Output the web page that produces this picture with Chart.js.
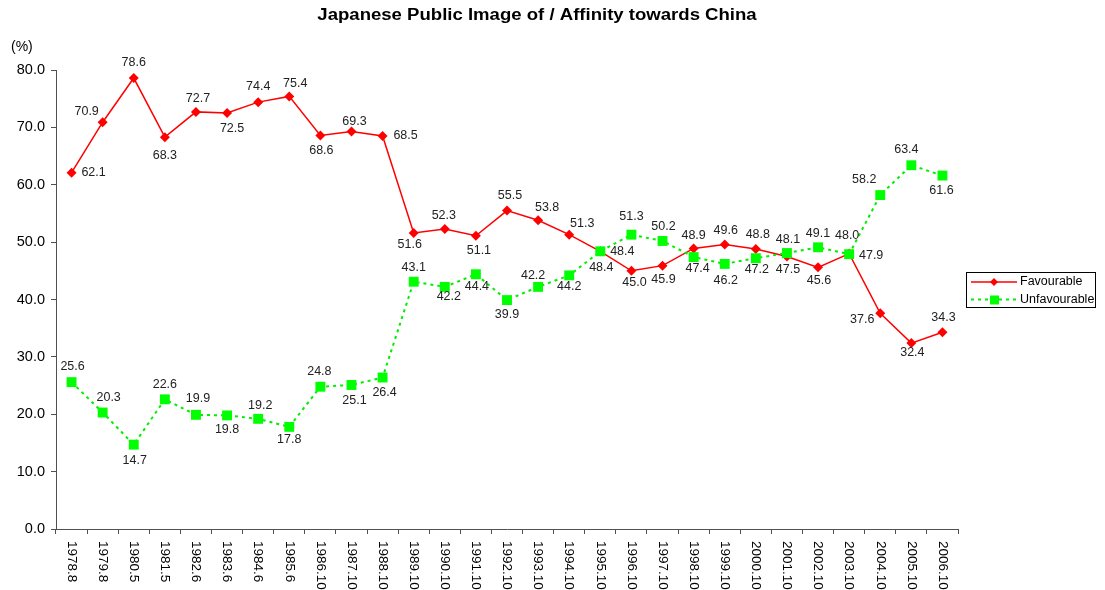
<!DOCTYPE html>
<html>
<head>
<meta charset="utf-8">
<script src="https://cdn.jsdelivr.net/npm/chart.js@4.4.1/dist/chart.umd.min.js"></script>
<style>
html,body{margin:0;padding:0;background:#fff;}
#wrap{width:1105px;height:590px;position:relative;}
</style>
</head>
<body>
<div id="wrap"><canvas id="c" width="1105" height="590"></canvas></div>
<script>
const categories = ['1978.8','1979.8','1980.5','1981.5','1982.6','1983.6','1984.6','1985.6','1986.10','1987.10','1988.10','1989.10','1990.10','1991.10','1992.10','1993.10','1994.10','1995.10','1996.10','1997.10','1998.10','1999.10','2000.10','2001.10','2002.10','2003.10','2004.10','2005.10','2006.10'];
const favourable = [62.1,70.9,78.6,68.3,72.7,72.5,74.4,75.4,68.6,69.3,68.5,51.6,52.3,51.1,55.5,53.8,51.3,48.4,45.0,45.9,48.9,49.6,48.8,47.5,45.6,48.0,37.6,32.4,34.3];
const unfavourable = [25.6,20.3,14.7,22.6,19.9,19.8,19.2,17.8,24.8,25.1,26.4,43.1,42.2,44.4,39.9,42.2,44.2,48.4,51.3,50.2,47.4,46.2,47.2,48.1,49.1,47.9,58.2,63.4,61.6];
const yTicks = [0,10,20,30,40,50,60,70,80];
const seriesNames = ['Favourable','Unfavourable'];
const titleText = 'Japanese Public Image of / Affinity towards China';
const unitText = '(%)';

// label placement offsets (style only): [dx, dy] from point centre
const favLabelOffsets = [[22,0],[-16,-11],[0,-15],[0,18],[2,-13],[5,16],[0,-16],[6,-13],[1,15],[3,-10],[23,0],[-4,12],[-1,-13],[3,15],[3,-15],[9,-13],[13,-11],[22,0],[3,12],[1,14],[0,-13],[1,-14],[2,-14],[1,13],[1,13],[-2,-18],[-18,6],[1,9],[1,-15]];
const unfLabelOffsets = [[1,-16],[6,-15],[1,16],[0,-15],[2,-16],[0,14],[2,-13],[0,13],[-1,-15],[3,16],[2,15],[0,-14],[4,10],[1,12],[0,14],[-5,-11],[0,11],[1,16],[0,-18],[1,-14],[4,12],[1,17],[1,11],[1,-13],[0,-14],[22,1],[-16,-16],[-5,-16],[-1,15]];

const FONT = '"Liberation Sans", Arial, sans-serif';
const AXIS = '#505050';

const overlay = {
  id: 'overlay',
  afterDatasetsDraw(chart) {
    const ctx = chart.ctx;
    ctx.save();
    ctx.font = '12.5px ' + FONT;
    ctx.fillStyle = '#222';
    ctx.textAlign = 'center';
    ctx.textBaseline = 'middle';
    const offs = [favLabelOffsets, unfLabelOffsets];
    chart.data.datasets.forEach((ds, di) => {
      const meta = chart.getDatasetMeta(di);
      meta.data.forEach((pt, i) => {
        const o = offs[di][i];
        ctx.fillText(ds.data[i].toFixed(1), pt.x + o[0], pt.y + o[1]);
      });
    });
    ctx.restore();
  },
  afterDraw(chart) {
    const ctx = chart.ctx;
    const xs = chart.scales.x;
    ctx.save();
    // x labels rotated clockwise
    ctx.font = '13.5px ' + FONT;
    ctx.fillStyle = '#000';
    ctx.textAlign = 'left';
    ctx.textBaseline = 'middle';
    categories.forEach((c, i) => {
      const x = xs.getPixelForValue(i);
      ctx.save();
      ctx.translate(x, 541);
      ctx.rotate(Math.PI / 2);
      ctx.fillText(c, 0, 0);
      ctx.restore();
    });
    // title (slightly widened like the reference)
    ctx.save();
    ctx.font = 'bold 16px ' + FONT;
    ctx.textAlign = 'center';
    ctx.translate(537, 16);
    ctx.scale(1.16, 1);
    ctx.fillText(titleText, 0, 0);
    ctx.restore();
    // unit
    ctx.font = '14px ' + FONT;
    ctx.textAlign = 'left';
    ctx.fillText(unitText, 11, 47);
    // legend
    ctx.strokeStyle = '#000';
    ctx.lineWidth = 1;
    ctx.strokeRect(966.5, 272.5, 129, 35);
    ctx.font = '12.5px ' + FONT;
    // row 1
    ctx.strokeStyle = '#ff0000';
    ctx.lineWidth = 1.5;
    ctx.beginPath(); ctx.moveTo(971, 282); ctx.lineTo(1017, 282); ctx.stroke();
    ctx.fillStyle = '#ff0000';
    ctx.beginPath(); ctx.moveTo(994, 278); ctx.lineTo(998, 282); ctx.lineTo(994, 286); ctx.lineTo(990, 282); ctx.closePath(); ctx.fill();
    ctx.fillStyle = '#000';
    ctx.fillText(seriesNames[0], 1020, 282);
    // row 2
    ctx.strokeStyle = '#00ee00';
    ctx.lineWidth = 2;
    ctx.setLineDash([3, 4]);
    ctx.beginPath(); ctx.moveTo(971, 299.5); ctx.lineTo(1017, 299.5); ctx.stroke();
    ctx.setLineDash([]);
    ctx.fillStyle = '#00ff00';
    ctx.fillRect(990, 295.5, 9, 9);
    ctx.fillStyle = '#000';
    ctx.fillText(seriesNames[1], 1020, 299.5);
    ctx.restore();
  }
};

new Chart(document.getElementById('c'), {
  type: 'line',
  data: {
    labels: categories,
    datasets: [
      {
        label: seriesNames[0],
        data: favourable,
        borderColor: '#ff0000',
        backgroundColor: '#ff0000',
        borderWidth: 1.5,
        pointStyle: 'rectRot',
        pointRadius: 5,
        pointBorderWidth: 0,
        pointBackgroundColor: '#ff0000',
        tension: 0,
        order: 1
      },
      {
        label: seriesNames[1],
        data: unfavourable,
        borderColor: '#00ee00',
        backgroundColor: '#00ff00',
        borderWidth: 2,
        borderDash: [3, 4],
        pointStyle: 'rect',
        pointRadius: 7,
        pointBorderWidth: 0,
        pointBackgroundColor: '#00ff00',
        tension: 0,
        order: 0
      }
    ]
  },
  options: {
    responsive: false,
    animation: false,
    devicePixelRatio: 1,
    layout: { padding: { left: 0, right: 147, top: 70, bottom: 56 } },
    plugins: { legend: { display: false }, title: { display: false }, tooltip: { enabled: false } },
    scales: {
      x: {
        type: 'category',
        offset: true,
        grid: { offset: true, drawOnChartArea: false, drawTicks: true, tickLength: 5, color: AXIS },
        border: { display: true, color: AXIS, width: 1 },
        ticks: { display: false },
        afterFit(s) { s.height = 5; }
      },
      y: {
        min: 0,
        max: 80,
        afterBuildTicks(s) { s.ticks = yTicks.map(v => ({ value: v })); },
        grid: { drawOnChartArea: false, drawTicks: true, tickLength: 5, color: AXIS },
        border: { display: true, color: AXIS, width: 1 },
        ticks: {
          font: { family: FONT, size: 14.5 },
          color: '#000',
          padding: 6,
          callback: v => Number(v).toFixed(1)
        },
        afterFit(s) { s.width = 56; }
      }
    }
  },
  plugins: [overlay]
});
</script>
</body>
</html>
